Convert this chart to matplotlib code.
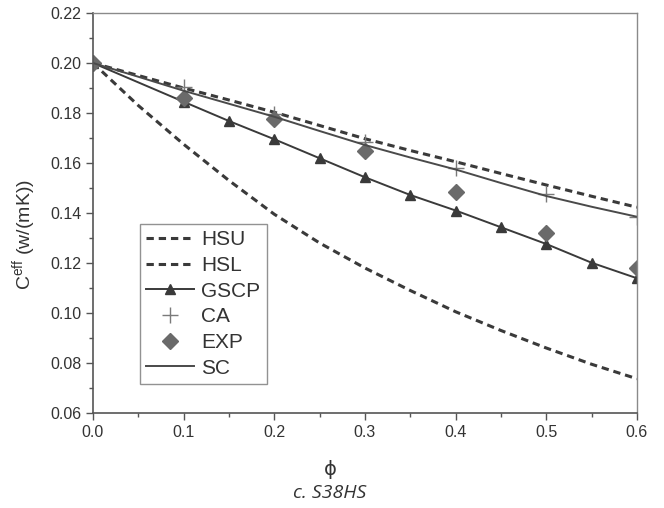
import matplotlib.pyplot as plt
from matplotlib.ticker import MultipleLocator

# volume fraction grids
phi = [0.0, 0.05, 0.1, 0.15, 0.2, 0.25, 0.3, 0.35, 0.4, 0.45, 0.5, 0.55, 0.6]
phi_pts = [0.0, 0.1, 0.2, 0.3, 0.4, 0.5, 0.6]
phi_gscp = [0.0, 0.1, 0.15, 0.2, 0.25, 0.3, 0.35, 0.4, 0.45, 0.5, 0.55, 0.6]

# bounds and models
hsu = [0.200, 0.1950, 0.1900, 0.1852, 0.1803, 0.1750, 0.1697, 0.1650, 0.1605, 0.1558, 0.1512, 0.1467, 0.1423]
hsl = [0.200, 0.1830, 0.1675, 0.1530, 0.1395, 0.1280, 0.1180, 0.1090, 0.1005, 0.0930, 0.0860, 0.0795, 0.0737]
gscp = [0.200, 0.1845, 0.1768, 0.1695, 0.1619, 0.1543, 0.1472, 0.1410, 0.1343, 0.1276, 0.1201, 0.1139]
ca = [0.200, 0.1905, 0.1795, 0.1685, 0.1579, 0.1476, 0.1385]
exp = [0.200, 0.1859, 0.1776, 0.1649, 0.1485, 0.1321, 0.1179]
sc = [0.200, 0.1945, 0.1889, 0.1837, 0.1785, 0.1728, 0.1672, 0.1622, 0.1574, 0.1520, 0.1468, 0.1425, 0.1385]

plt.rcParams['font.family'] = ['Liberation Sans', 'DejaVu Sans']

fig = plt.figure(figsize=(6.64, 5.08), dpi=100)
ax = fig.add_axes([0.140, 0.187, 0.8193, 0.7874])

dark = '#3a3a3a'
ax.plot(phi, hsu, color=dark, lw=2.2, dashes=(2.4, 1.6), label='HSU')
ax.plot(phi, hsl, color=dark, lw=2.2, dashes=(2.4, 1.6), label='HSL')
ax.plot(phi_gscp, gscp, color=dark, lw=1.4, marker='^', ms=7, label='GSCP')
ax.plot(phi_pts, ca, ls='none', marker='+', ms=11, mew=1.0, color='#7a7a7a', label='CA')
ax.plot(phi_pts, exp, ls='none', marker='D', ms=8, color='#6a6a6a', label='EXP')
ax.plot(phi, sc, color='#4a4a4a', lw=1.4, label='SC')

ax.set_xlim(0, 0.6)
ax.set_ylim(0.06, 0.22)
ax.xaxis.set_major_locator(MultipleLocator(0.1))
ax.xaxis.set_minor_locator(MultipleLocator(0.05))
ax.yaxis.set_major_locator(MultipleLocator(0.02))
ax.yaxis.set_minor_locator(MultipleLocator(0.01))
ax.xaxis.set_major_formatter(lambda v, p: f'{v:.1f}')
ax.yaxis.set_major_formatter(lambda v, p: f'{v:.2f}')

ax.tick_params(which='major', direction='out', length=5, width=1, color='#555555',
               labelsize=11.5, labelcolor='#333333', top=False, right=False)
ax.tick_params(which='minor', direction='out', length=3, width=1, color='#555555',
               top=False, right=False)
for side in ['left', 'bottom']:
    ax.spines[side].set_color('#555555')
    ax.spines[side].set_linewidth(1.2)
for side in ['top', 'right']:
    ax.spines[side].set_color('#8a8a8a')
    ax.spines[side].set_linewidth(1.0)

ax.set_ylabel('C$^{\\mathregular{eff}}$ (w/(mK))', fontsize=14, color='#333333')
ax.yaxis.set_label_coords(-0.10, 0.445)
fig.text(0.497, 0.075, 'ϕ', ha='center', va='center', fontsize=14, color='#333333',
         family='DejaVu Sans')
fig.text(0.497, 0.030, 'c. S38HS', ha='center', va='center', fontsize=14, color='#333333',
         family='Open Sans', style='italic')

leg = ax.legend(loc='upper left', bbox_to_anchor=(0.0864, 0.4725), borderaxespad=0,
                fontsize=15, frameon=True, fancybox=False, handlelength=2.3,
                handletextpad=0.35, labelspacing=0.32, borderpad=0.3)
leg.get_frame().set_edgecolor('#777777')
leg.get_frame().set_linewidth(1.0)
for t in leg.get_texts():
    t.set_color('#333333')

fig.savefig('out.png', dpi=100)
